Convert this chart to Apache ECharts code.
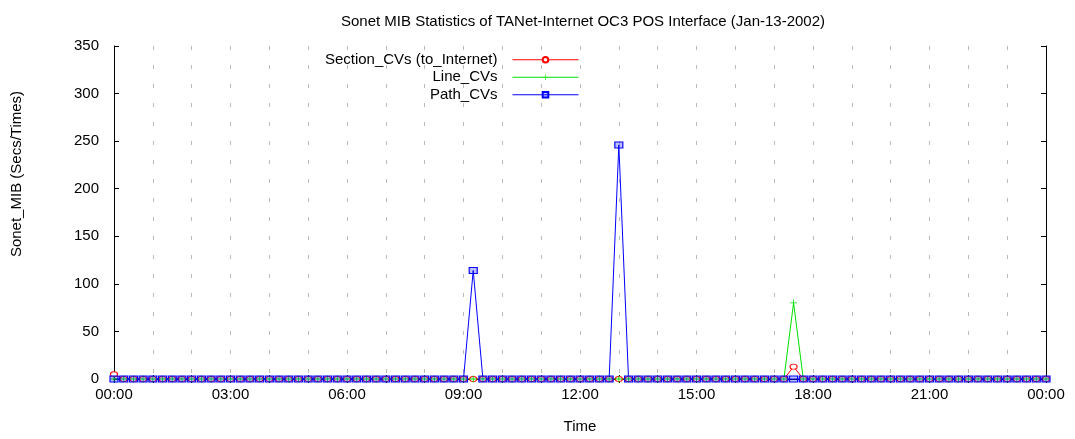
<!DOCTYPE html>
<html>
<head>
<meta charset="utf-8">
<script src="https://cdn.jsdelivr.net/npm/echarts@6/dist/echarts.min.js"></script>
<style>html,body{margin:0;padding:0;background:#fff}#c{width:1075px;height:439px}</style>
</head>
<body>
<div id="c"></div>
<script>
// 15-minute samples, 00:00 .. 24:00
const times = (
  "00:00 00:15 00:30 00:45 01:00 01:15 01:30 01:45 02:00 02:15 02:30 02:45 " +
  "03:00 03:15 03:30 03:45 04:00 04:15 04:30 04:45 05:00 05:15 05:30 05:45 " +
  "06:00 06:15 06:30 06:45 07:00 07:15 07:30 07:45 08:00 08:15 08:30 08:45 " +
  "09:00 09:15 09:30 09:45 10:00 10:15 10:30 10:45 11:00 11:15 11:30 11:45 " +
  "12:00 12:15 12:30 12:45 13:00 13:15 13:30 13:45 14:00 14:15 14:30 14:45 " +
  "15:00 15:15 15:30 15:45 16:00 16:15 16:30 16:45 17:00 17:15 17:30 17:45 " +
  "18:00 18:15 18:30 18:45 19:00 19:15 19:30 19:45 20:00 20:15 20:30 20:45 " +
  "21:00 21:15 21:30 21:45 22:00 22:15 22:30 22:45 23:00 23:15 23:30 23:45 " +
  "24:00").split(" ");
const xTickLabels = ["00:00","03:00","06:00","09:00","12:00","15:00","18:00","21:00","00:00"];
const yTicks = [0,50,100,150,200,250,300,350];

const sectionCVs = [
  5,0,0,0,0,0,0,0,0,0,0,0,
  0,0,0,0,0,0,0,0,0,0,0,0,
  0,0,0,0,0,0,0,0,0,0,0,0,
  0,0,0,0,0,0,0,0,0,0,0,0,
  0,0,0,0,0,0,0,0,0,0,0,0,
  0,0,0,0,0,0,0,0,0,0,13,0,
  0,0,0,0,0,0,0,0,0,0,0,0,
  0,0,0,0,0,0,0,0,0,0,0,0,
  0];
const lineCVs = [
  0,0,0,0,0,0,0,0,0,0,0,0,
  0,0,0,0,0,0,0,0,0,0,0,0,
  0,0,0,0,0,0,0,0,0,0,0,0,
  0,0,0,0,0,0,0,0,0,0,0,0,
  0,0,0,0,0,0,0,0,0,0,0,0,
  0,0,0,0,0,0,0,0,0,0,80,0,
  0,0,0,0,0,0,0,0,0,0,0,0,
  0,0,0,0,0,0,0,0,0,0,0,0,
  0];
const pathCVs = [
  0,0,0,0,0,0,0,0,0,0,0,0,
  0,0,0,0,0,0,0,0,0,0,0,0,
  0,0,0,0,0,0,0,0,0,0,0,0,
  0,114,0,0,0,0,0,0,0,0,0,0,
  0,0,0,0,246,0,0,0,0,0,0,0,
  0,0,0,0,0,0,0,0,0,0,0,0,
  0,0,0,0,0,0,0,0,0,0,0,0,
  0,0,0,0,0,0,0,0,0,0,0,0,
  0];

const FONT = "'Liberation Sans', Arial, sans-serif";
const FS = 15;
const chart = echarts.init(document.getElementById('c'), null, {renderer:'canvas'});
const isMajor = i => i % 12 === 0;
const isHour = i => i % 4 === 0;
const PLUS = 'path://M0,4.4H10V5.6H0ZM4.4,0H5.6V10H4.4Z';

chart.setOption({
  animation: false,
  backgroundColor: '#fff',
  title: {
    text: 'Sonet MIB Statistics of TANet-Internet OC3 POS Interface (Jan-13-2002)',
    left: 578, top: 9, textAlign: 'center',
    textStyle: {fontFamily: FONT, fontSize: FS, fontWeight: 'normal', color: '#000'}
  },
  graphic: [{
    type: 'text', x: 17, y: 174, rotation: Math.PI / 2,
    style: {text: 'Sonet_MIB (Secs/Times)', fontFamily: FONT, fontSize: FS, fill: '#000',
      align: 'center', verticalAlign: 'middle'}
  }],
  legend: {
    orient: 'vertical', right: 491, top: 46, align: 'right',
    itemWidth: 66, itemHeight: 7, itemGap: 0,
    lineStyle: {width: 1},
    textStyle: {fontFamily: FONT, fontSize: FS, color: '#000', padding:[0,10,0,0], lineHeight: 17.5},
    data: ['Section_CVs (to_Internet)', 'Line_CVs', 'Path_CVs']
  },
  grid: {left: 114, width: 932, top: 46, height: 336, containLabel: false},
  xAxis: [{
    type: 'category', data: times, boundaryGap: false, position: 'bottom',
    name: 'Time', nameLocation: 'middle', nameGap: 40,
    nameTextStyle: {fontFamily: FONT, fontSize: FS, color: '#000'},
    axisLine: {show: true, lineStyle: {color: '#000', width: 1}},
    axisTick: {show: true, inside: true, length: 4, interval: (i) => isHour(i), lineStyle: {color: '#000'}},
    axisLabel: {show: true, interval: (i) => isMajor(i), margin: 8,
      formatter: (v, i) => xTickLabels[i / 12],
      fontFamily: FONT, fontSize: FS, color: '#000'},
    splitLine: {show: true, interval: (i) => isHour(i) && i > 0 && i < 96,
      lineStyle: {color: '#bbbbbb', type: [4, 15], width: 1}}
  }, {
    type: 'category', data: times, boundaryGap: false, position: 'top',
    axisLine: {show: true, lineStyle: {color: '#000', width: 1}},
    axisTick: {show: true, inside: true, length: 4, interval: (i) => isHour(i), lineStyle: {color: '#000'}},
    axisLabel: {show: false}, splitLine: {show: false}
  }],
  yAxis: [{
    type: 'value', min: 0, max: 350, interval: 50, position: 'left',
    axisLine: {show: true, lineStyle: {color: '#000', width: 1}},
    axisTick: {show: true, inside: true, length: 5, lineStyle: {color: '#000'}},
    axisLabel: {margin: 15, fontFamily: FONT, fontSize: FS, color: '#000',
      formatter: v => String(yTicks[yTicks.indexOf(v)])},
    splitLine: {show: false}
  }, {
    type: 'value', min: 0, max: 350, interval: 50, position: 'right',
    axisLine: {show: true, lineStyle: {color: '#000', width: 1}},
    axisTick: {show: true, inside: true, length: 5, lineStyle: {color: '#000'}},
    axisLabel: {show: false}, splitLine: {show: false}
  }],
  series: [{
    name: 'Section_CVs (to_Internet)', type: 'line', data: sectionCVs,
    symbol: 'circle', symbolSize: [7, 5], showAllSymbol: true,
    lineStyle: {color: '#ff0000', width: 1},
    itemStyle: {color: '#ffffff', borderColor: '#ff0000', borderWidth: 1}
  }, {
    name: 'Line_CVs', type: 'line', data: lineCVs,
    symbol: PLUS, symbolSize: 7, showAllSymbol: true,
    lineStyle: {color: '#00e000', width: 1},
    itemStyle: {color: '#00e000'}
  }, {
    name: 'Path_CVs', type: 'line', data: pathCVs,
    symbol: 'rect', symbolSize: [8, 6], showAllSymbol: true,
    lineStyle: {color: '#0000ff', width: 1},
    itemStyle: {color: 'rgba(0,0,255,0.25)', borderColor: '#0000ff', borderWidth: 1}
  }]
});
</script>
</body>
</html>
